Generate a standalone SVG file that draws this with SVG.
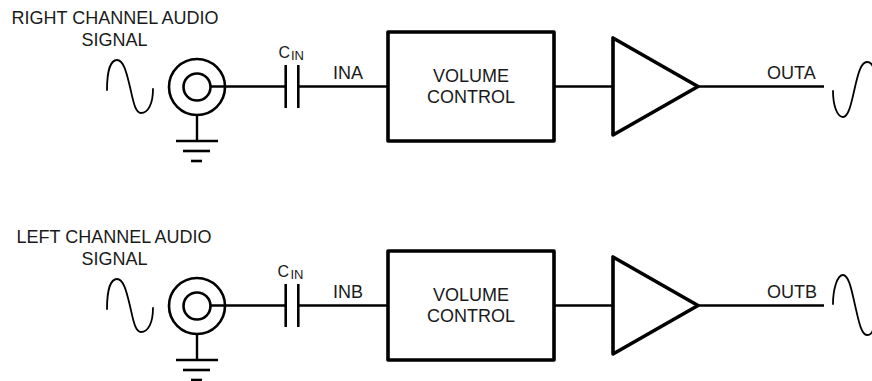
<svg xmlns="http://www.w3.org/2000/svg" width="872" height="381" viewBox="0 0 872 381">
<style>
  text { font-family: "Liberation Sans", Arial, sans-serif; fill: #1a1a1a; }
  .lbl { font-size: 18px; }
  .c { font-size: 16px; }
  .sub { font-size: 13px; }
  .wire { stroke: #000; stroke-width: 2.4; fill: none; }
  .wave { stroke: #000; stroke-width: 1.8; fill: none; stroke-linecap: round; }
  .coax { stroke: #000; stroke-width: 2.6; fill: none; }
  .plate { stroke: #000; stroke-width: 2.6; fill: none; }
  .box { stroke: #000; stroke-width: 3.6; fill: #fff; stroke-linejoin: round; }
  .amp { stroke: #000; stroke-width: 3.6; fill: #fff; stroke-linejoin: round; }
</style>

<g id="connectors">
  <line class="wire" x1="210.5" y1="86.5" x2="285.7" y2="86.5"/>
  <line class="wire" x1="298.3" y1="86.5" x2="388" y2="86.5"/>
  <line class="wire" x1="554" y1="86.5" x2="613" y2="86.5"/>
  <line class="wire" x1="698" y1="86.5" x2="824" y2="86.5"/>
  <line class="wire" x1="210.5" y1="305.5" x2="285.7" y2="305.5"/>
  <line class="wire" x1="298.3" y1="305.5" x2="388" y2="305.5"/>
  <line class="wire" x1="554" y1="305.5" x2="613" y2="305.5"/>
  <line class="wire" x1="698" y1="305.5" x2="824" y2="305.5"/>
</g>

<g id="right-source">
  <text class="lbl" x="115" y="24" text-anchor="middle">RIGHT CHANNEL AUDIO</text>
  <text class="lbl" x="114.5" y="46" text-anchor="middle">SIGNAL</text>
  <path class="wave" d="M107,90 C107,70 111,60 117,60 C124,60 127,75 130,87 C133,100 135,113 141,113 C148,113 153,104 153,89"/>
  <circle class="coax" cx="197" cy="87" r="28"/>
  <circle class="coax" cx="197" cy="87" r="13.5"/>
  <line class="wire" x1="197" y1="115" x2="197" y2="141"/>
  <line class="coax" x1="176" y1="141" x2="218" y2="141"/>
  <line class="coax" x1="183" y1="151" x2="210" y2="151"/>
  <line class="coax" x1="191" y1="161" x2="202" y2="161"/>
</g>
<g id="right-cap">
  <line class="plate" x1="285.7" y1="65" x2="285.7" y2="108"/>
  <line class="plate" x1="298.3" y1="65" x2="298.3" y2="108"/>
  <text class="c" x="278.5" y="57.5">C</text>
  <text class="sub" x="291" y="60">IN</text>
  <text class="lbl" x="333" y="79">INA</text>
</g>
<g id="right-volume">
  <rect class="box" x="388" y="32" width="166" height="109"/>
  <text class="lbl" x="471" y="82" text-anchor="middle">VOLUME</text>
  <text class="lbl" x="471" y="103" text-anchor="middle">CONTROL</text>
</g>
<g id="right-amp">
  <polygon class="amp" points="613,38 613,135 698,86.5"/>
</g>
<g id="right-out">
  <text class="lbl" x="767" y="79">OUTA</text>
  <path class="wave" d="M833,91 C833,105 837,117 843,117 C849,117 852,100 855,87 C858,74 861,62 867,62 C870,62 872,64 873,67"/>
</g>

<g id="left-source">
  <text class="lbl" x="114" y="243" text-anchor="middle">LEFT CHANNEL AUDIO</text>
  <text class="lbl" x="114.5" y="265" text-anchor="middle">SIGNAL</text>
  <path class="wave" d="M107,309 C107,289 111,279 117,279 C124,279 127,294 130,306 C133,319 135,332 141,332 C148,332 153,323 153,308"/>
  <circle class="coax" cx="197" cy="306" r="28"/>
  <circle class="coax" cx="197" cy="306" r="13.5"/>
  <line class="wire" x1="197" y1="334" x2="197" y2="360"/>
  <line class="coax" x1="176" y1="360" x2="218" y2="360"/>
  <line class="coax" x1="183" y1="370" x2="210" y2="370"/>
  <line class="coax" x1="191" y1="380" x2="202" y2="380"/>
</g>
<g id="left-cap">
  <line class="plate" x1="285.7" y1="284" x2="285.7" y2="327"/>
  <line class="plate" x1="298.3" y1="284" x2="298.3" y2="327"/>
  <text class="c" x="277.5" y="276.5">C</text>
  <text class="sub" x="290.5" y="279">IN</text>
  <text class="lbl" x="333" y="298">INB</text>
</g>
<g id="left-volume">
  <rect class="box" x="388" y="251" width="166" height="109"/>
  <text class="lbl" x="471" y="301" text-anchor="middle">VOLUME</text>
  <text class="lbl" x="471" y="322" text-anchor="middle">CONTROL</text>
</g>
<g id="left-amp">
  <polygon class="amp" points="613,257 613,354 698,305.5"/>
</g>
<g id="left-out">
  <text class="lbl" x="767" y="298">OUTB</text>
  <path class="wave" d="M833,304 C833,290 837,275 843,275 C849,275 852,292 855,305 C858,318 861,335 867,335 C870,335 872,333 873,330"/>
</g>
</svg>
